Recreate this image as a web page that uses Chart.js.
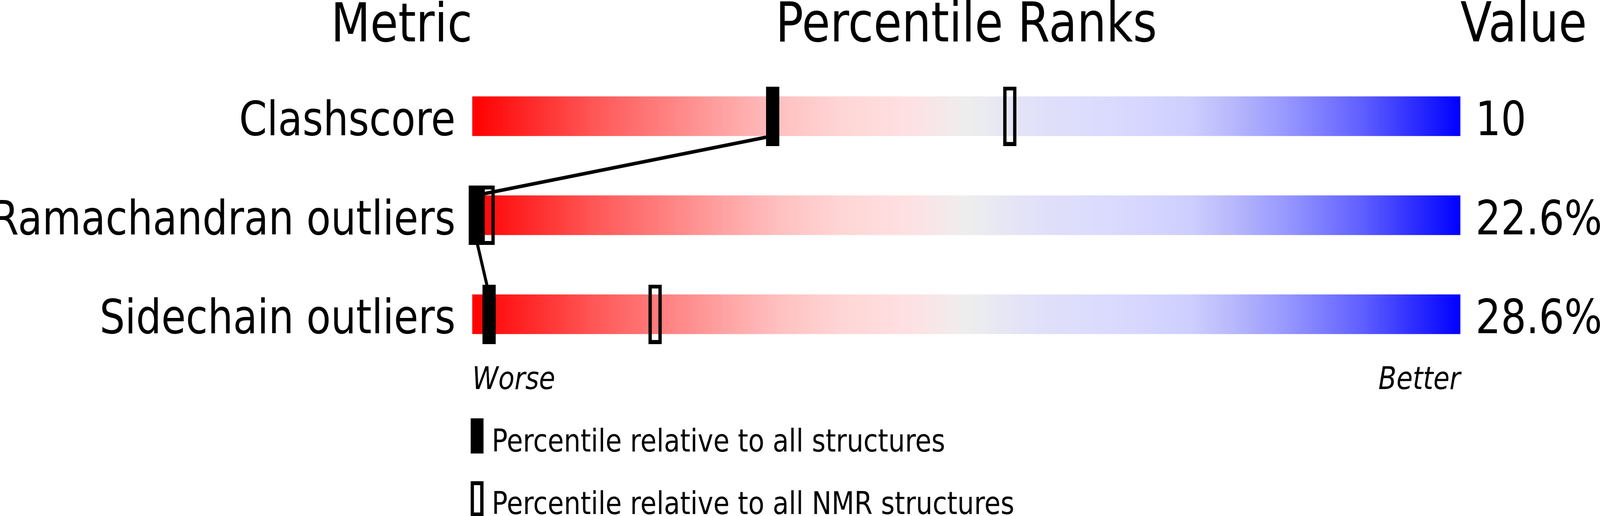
<!DOCTYPE html>
<html>
<head>
<meta charset="utf-8">
<script src="https://cdn.jsdelivr.net/npm/chart.js@4/dist/chart.umd.min.js"></script>
<style>
  html, body { margin: 0; padding: 0; background: #ffffff; overflow: hidden; }
  #c { display: block; }
</style>
</head>
<body>
<canvas id="c" width="4858" height="1321" style="width:100vw;height:100vh"></canvas>
<script>
// ---- data ----
const metrics = ['Clashscore', 'Ramachandran outliers', 'Sidechain outliers'];
const valueLabels = ['10', '22.6%', '28.6%'];
const pctAll = [30.4, 0.3, 1.7];     // percentile relative to all structures
const pctNMR = [54.4, 1.6, 18.5];    // percentile relative to all NMR structures
const headers = ['Metric', 'Percentile Ranks', 'Value'];
const axisEnds = ['Worse', 'Better'];
const legendTexts = ['Percentile relative to all structures', 'Percentile relative to all NMR structures'];

// ---- styles ----
const FONT = 'DejaVu Sans';
const LABEL_SIZE = 121;
const BAR_H = 101;
const MARK_W = 40, MARK_H = 152, MARK_STROKE = 10;

// vertical offset so the label baseline sits 48.5px below the row centre
function baselineOffset(size) {
  const cv = document.createElement('canvas');
  const g = cv.getContext('2d');
  g.font = size + 'px "' + FONT + '"';
  g.textBaseline = 'middle';
  const m = g.measureText('H');
  return 48.5 - m.actualBoundingBoxDescent;
}
const LABEL_OFF = baselineOffset(LABEL_SIZE);

function makeMarker(w, h, open, stroke) {
  const cv = document.createElement('canvas');
  cv.width = w; cv.height = h;
  const g = cv.getContext('2d');
  g.fillStyle = '#000';
  g.fillRect(0, 0, w, h);
  if (open) g.clearRect(stroke, stroke, w - 2 * stroke, h - 2 * stroke);
  return cv;
}
const filledMark = makeMarker(MARK_W, MARK_H, false, 0);
const openMark = makeMarker(MARK_W, MARK_H, true, MARK_STROKE);
const legFilled = makeMarker(39, 90, false, 0);
const legOpen = makeMarker(39, 90, true, 10);

let gradCache = null;
function sliderGradient(ctx) {
  const chart = ctx.chart;
  const a = chart.chartArea;
  if (!a) return '#eeeeee';
  if (gradCache && gradCache.l === a.left && gradCache.r === a.right) return gradCache.g;
  const g = chart.ctx.createLinearGradient(a.left, 0, a.right, 0);
  const stops = [
    [0.00, '#ff0000'], [0.125, '#ff5858'], [0.25, '#ffa0a0'], [0.31, '#ffc0c0'],
    [0.375, '#ffd6d6'], [0.44, '#ffe0e2'], [0.50, '#eeeeee'], [0.575, '#e0e0fa'],
    [0.65, '#dadaff'], [0.725, '#cfcfff'], [0.77, '#b8b8fc'], [0.82, '#9a9aff'],
    [0.90, '#6060ff'], [1.00, '#0000ff']
  ];
  stops.forEach(s => g.addColorStop(s[0], s[1]));
  gradCache = { l: a.left, r: a.right, g };
  return g;
}

const connectPlugin = {
  id: 'connect',
  afterDatasetDraw(chart, args) {
    if (args.index !== 2) return;
    const x = chart.scales.x, y = chart.scales.y;
    const bars = chart.getDatasetMeta(2).data;
    const c = chart.ctx;
    c.save();
    c.strokeStyle = '#000';
    c.lineWidth = 9;
    c.beginPath();
    for (let i = 0; i < pctAll.length - 1; i++) {
      const h1 = bars[i].height / 2, h2 = bars[i + 1].height / 2;
      c.moveTo(x.getPixelForValue(pctAll[i]), y.getPixelForValue(i) + h1);
      c.lineTo(x.getPixelForValue(pctAll[i + 1]), y.getPixelForValue(i + 1) - h2);
    }
    c.stroke();
    c.restore();
  }
};

const textPlugin = {
  id: 'texts',
  afterDraw(chart) {
    const a = chart.chartArea;
    const c = chart.ctx;
    c.save();
    c.fillStyle = '#000';
    c.textBaseline = 'alphabetic';
    c.font = '138px "' + FONT + '"';
    c.textAlign = 'right';
    c.fillText(headers[0], a.left, 106);
    c.font = '140px "' + FONT + '"';
    c.textAlign = 'center';
    c.fillText(headers[1], (a.left + a.right) / 2, 106);
    c.textAlign = 'left';
    c.fillText(headers[2], a.right, 106);

    c.font = 'italic 80px "' + FONT + '"';
    c.textAlign = 'left';
    c.fillText(axisEnds[0], a.left, 996);
    c.textAlign = 'right';
    c.fillText(axisEnds[1], a.right, 996);

    c.font = '80px "' + FONT + '"';
    c.textAlign = 'left';
    c.drawImage(legFilled, a.left - 5, 1071);
    c.fillText(legendTexts[0], a.left + 59, 1156);
    c.drawImage(legOpen, a.left - 5, 1232);
    c.fillText(legendTexts[1], a.left + 59, 1316);
    c.restore();
  }
};

new Chart(document.getElementById('c'), {
  type: 'bar',
  data: {
    labels: metrics,
    datasets: [
      {
        type: 'line',
        label: 'all structures',
        data: metrics.map((m, i) => ({ x: pctAll[i], y: m })),
        showLine: false,
        pointStyle: filledMark,
        pointRadius: 20,
        clip: false,
        order: 0
      },
      {
        type: 'line',
        label: 'NMR structures',
        data: metrics.map((m, i) => ({ x: pctNMR[i], y: m })),
        showLine: false,
        pointStyle: openMark,
        pointRadius: 20,
        clip: false,
        order: 1
      },
      {
        label: 'slider',
        data: metrics.map(() => [0, 100]),
        backgroundColor: sliderGradient,
        borderWidth: 0,
        barThickness: BAR_H,
        grouped: false,
        order: 2
      }
    ]
  },
  options: {
    indexAxis: 'y',
    responsive: false,
    devicePixelRatio: 1,
    animation: false,
    events: [],
    layout: { padding: { top: 170.75, bottom: 389.75, left: 0, right: 0 } },
    plugins: { legend: { display: false }, tooltip: { enabled: false }, title: { display: false } },
    scales: {
      y: {
        type: 'category',
        position: 'left',
        offset: true,
        grid: { display: false, drawTicks: false },
        border: { display: false },
        ticks: { color: '#000', font: { family: FONT, size: LABEL_SIZE }, padding: 51, autoSkip: false, labelOffset: LABEL_OFF },
        afterFit(s) { s.width = 1434; }
      },
      yv: {
        type: 'category',
        axis: 'y',
        position: 'right',
        labels: valueLabels,
        offset: true,
        grid: { display: false, drawTicks: false },
        border: { display: false },
        ticks: { color: '#000', font: { family: FONT, size: LABEL_SIZE }, padding: 46, autoSkip: false, labelOffset: LABEL_OFF },
        afterFit(s) { s.width = 424; }
      },
      x: {
        type: 'linear',
        min: 0,
        max: 100,
        display: false
      }
    }
  },
  plugins: [connectPlugin, textPlugin]
});
</script>
</body>
</html>
